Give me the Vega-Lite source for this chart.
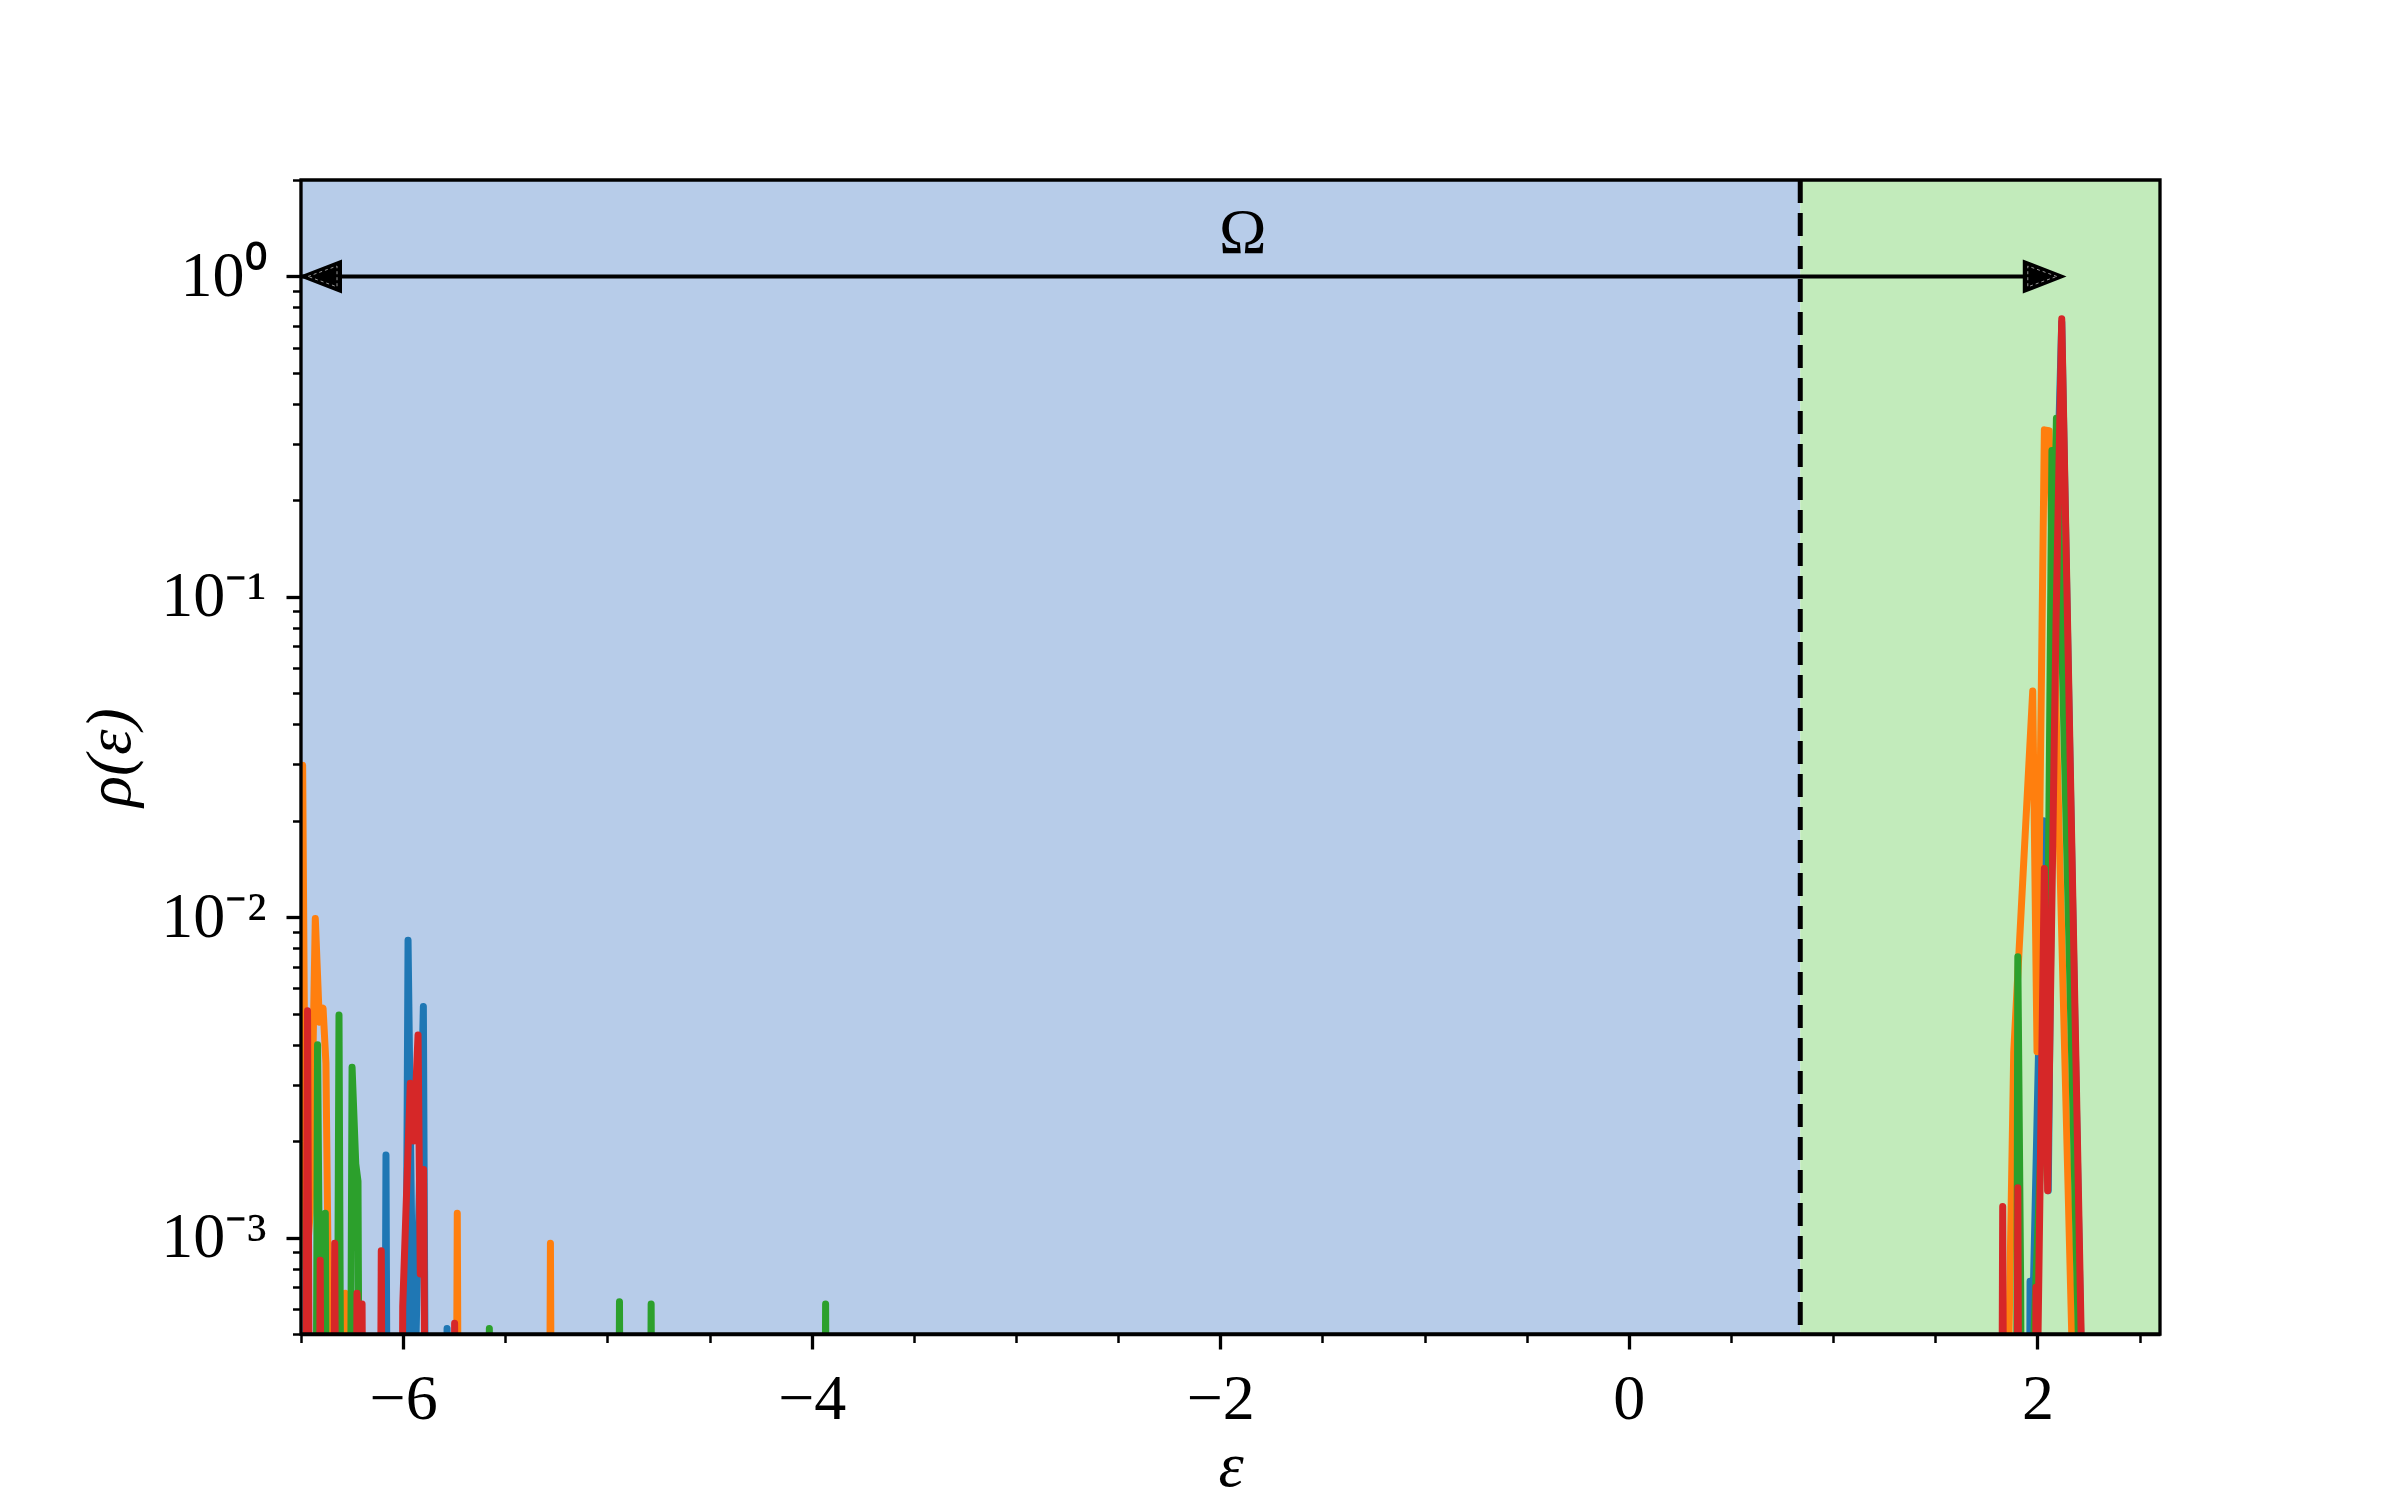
{
  "$schema": "https://vega.github.io/schema/vega-lite/v6.json",
  "autosize": {"type": "none"},
  "padding": {"left": 301, "top": 180, "right": 240, "bottom": 166},
  "width": 1859,
  "height": 1154,
  "background": "white",
  "config": {
    "view": {"stroke": null},
    "axis": {"grid": false, "zindex": 1}
  },
  "datasets": {
    "rho": [
      {"run": "1", "e": -6.5, "rho": 1e-5}, {"run": "1", "e": -6.098, "rho": 1e-5}, {"run": "1", "e": -6.084, "rho": 0.00181}, {"run": "1", "e": -6.07, "rho": 1e-5},
      {"run": "1", "e": -6.0, "rho": 1e-5}, {"run": "1", "e": -5.976, "rho": 0.00848}, {"run": "1", "e": -5.95, "rho": 0.0004}, {"run": "1", "e": -5.94, "rho": 0.0004},
      {"run": "1", "e": -5.901, "rho": 0.00526}, {"run": "1", "e": -5.881, "rho": 1e-5}, {"run": "1", "e": -5.797, "rho": 1e-5}, {"run": "1", "e": -5.785, "rho": 0.00052},
      {"run": "1", "e": -5.773, "rho": 1e-5}, {"run": "1", "e": 1.953, "rho": 1e-5}, {"run": "1", "e": 1.964, "rho": 0.00073}, {"run": "1", "e": 1.972, "rho": 0.0004},
      {"run": "1", "e": 2.03, "rho": 0.02}, {"run": "1", "e": 2.053, "rho": 0.0014}, {"run": "1", "e": 2.083, "rho": 0.105}, {"run": "1", "e": 2.119, "rho": 0.72},
      {"run": "1", "e": 2.212, "rho": 0.0005}, {"run": "1", "e": 2.22, "rho": 1e-5}, {"run": "1", "e": 2.6, "rho": 1e-5},

      {"run": "2", "e": -6.5, "rho": 0.002}, {"run": "2", "e": -6.492, "rho": 0.0298}, {"run": "2", "e": -6.475, "rho": 0.0008}, {"run": "2", "e": -6.455, "rho": 0.0012},
      {"run": "2", "e": -6.43, "rho": 0.0099}, {"run": "2", "e": -6.41, "rho": 0.0047}, {"run": "2", "e": -6.392, "rho": 0.0052}, {"run": "2", "e": -6.378, "rho": 0.0035},
      {"run": "2", "e": -6.368, "rho": 0.0009}, {"run": "2", "e": -6.355, "rho": 1e-5}, {"run": "2", "e": -6.295, "rho": 1e-5}, {"run": "2", "e": -6.283, "rho": 0.00067},
      {"run": "2", "e": -6.271, "rho": 1e-5}, {"run": "2", "e": -5.748, "rho": 1e-5}, {"run": "2", "e": -5.735, "rho": 0.00119}, {"run": "2", "e": -5.722, "rho": 1e-5},
      {"run": "2", "e": -5.292, "rho": 1e-5}, {"run": "2", "e": -5.279, "rho": 0.00096}, {"run": "2", "e": -5.266, "rho": 1e-5}, {"run": "2", "e": 1.855, "rho": 1e-5},
      {"run": "2", "e": 1.861, "rho": 0.0005}, {"run": "2", "e": 1.884, "rho": 0.0038}, {"run": "2", "e": 1.977, "rho": 0.0508}, {"run": "2", "e": 1.998, "rho": 0.0038},
      {"run": "2", "e": 2.034, "rho": 0.332}, {"run": "2", "e": 2.057, "rho": 0.33}, {"run": "2", "e": 2.168, "rho": 0.0005}, {"run": "2", "e": 2.175, "rho": 1e-5},
      {"run": "2", "e": 2.6, "rho": 1e-5},

      {"run": "3", "e": -6.5, "rho": 1e-5}, {"run": "3", "e": -6.433, "rho": 1e-5}, {"run": "3", "e": -6.419, "rho": 0.004}, {"run": "3", "e": -6.405, "rho": 0.0003},
      {"run": "3", "e": -6.381, "rho": 0.00119}, {"run": "3", "e": -6.366, "rho": 1e-5}, {"run": "3", "e": -6.332, "rho": 1e-5}, {"run": "3", "e": -6.314, "rho": 0.00495},
      {"run": "3", "e": -6.296, "rho": 1e-5}, {"run": "3", "e": -6.267, "rho": 1e-5}, {"run": "3", "e": -6.25, "rho": 0.0034}, {"run": "3", "e": -6.232, "rho": 0.0017},
      {"run": "3", "e": -6.221, "rho": 0.0015}, {"run": "3", "e": -6.206, "rho": 1e-5}, {"run": "3", "e": -5.59, "rho": 1e-5}, {"run": "3", "e": -5.578, "rho": 0.00052},
      {"run": "3", "e": -5.566, "rho": 1e-5}, {"run": "3", "e": -4.953, "rho": 1e-5}, {"run": "3", "e": -4.941, "rho": 0.00063}, {"run": "3", "e": -4.929, "rho": 1e-5},
      {"run": "3", "e": -4.798, "rho": 1e-5}, {"run": "3", "e": -4.786, "rho": 0.00062}, {"run": "3", "e": -4.774, "rho": 1e-5}, {"run": "3", "e": -3.944, "rho": 1e-5},
      {"run": "3", "e": -3.932, "rho": 0.00062}, {"run": "3", "e": -3.92, "rho": 1e-5}, {"run": "3", "e": 1.893, "rho": 1e-5}, {"run": "3", "e": 1.904, "rho": 0.00752},
      {"run": "3", "e": 1.918, "rho": 0.0007}, {"run": "3", "e": 1.93, "rho": 1e-5}, {"run": "3", "e": 1.978, "rho": 1e-5}, {"run": "3", "e": 1.983, "rho": 0.0005},
      {"run": "3", "e": 2.05, "rho": 0.007}, {"run": "3", "e": 2.071, "rho": 0.286}, {"run": "3", "e": 2.08, "rho": 0.12}, {"run": "3", "e": 2.093, "rho": 0.361},
      {"run": "3", "e": 2.2, "rho": 0.0005}, {"run": "3", "e": 2.207, "rho": 1e-5}, {"run": "3", "e": 2.6, "rho": 1e-5},

      {"run": "4", "e": -6.5, "rho": 1e-5}, {"run": "4", "e": -6.487, "rho": 1e-5}, {"run": "4", "e": -6.468, "rho": 0.0051}, {"run": "4", "e": -6.45, "rho": 1e-5},
      {"run": "4", "e": -6.42, "rho": 1e-5}, {"run": "4", "e": -6.406, "rho": 0.00085}, {"run": "4", "e": -6.392, "rho": 1e-5}, {"run": "4", "e": -6.35, "rho": 1e-5},
      {"run": "4", "e": -6.335, "rho": 0.00096}, {"run": "4", "e": -6.32, "rho": 1e-5}, {"run": "4", "e": -6.239, "rho": 1e-5}, {"run": "4", "e": -6.226, "rho": 0.00067},
      {"run": "4", "e": -6.214, "rho": 0.0004}, {"run": "4", "e": -6.201, "rho": 0.00062}, {"run": "4", "e": -6.188, "rho": 1e-5}, {"run": "4", "e": -6.121, "rho": 1e-5},
      {"run": "4", "e": -6.107, "rho": 0.00091}, {"run": "4", "e": -6.093, "rho": 1e-5}, {"run": "4", "e": -6.014, "rho": 1e-5}, {"run": "4", "e": -6.002, "rho": 0.00061},
      {"run": "4", "e": -5.965, "rho": 0.00303}, {"run": "4", "e": -5.949, "rho": 0.002}, {"run": "4", "e": -5.927, "rho": 0.00429}, {"run": "4", "e": -5.916, "rho": 0.00077},
      {"run": "4", "e": -5.9, "rho": 0.00163}, {"run": "4", "e": -5.881, "rho": 1e-5}, {"run": "4", "e": -5.76, "rho": 1e-5}, {"run": "4", "e": -5.748, "rho": 0.00054},
      {"run": "4", "e": -5.736, "rho": 1e-5}, {"run": "4", "e": 1.818, "rho": 1e-5}, {"run": "4", "e": 1.83, "rho": 0.00125}, {"run": "4", "e": 1.842, "rho": 1e-5},
      {"run": "4", "e": 1.893, "rho": 1e-5}, {"run": "4", "e": 1.904, "rho": 0.00143}, {"run": "4", "e": 1.916, "rho": 1e-5}, {"run": "4", "e": 1.983, "rho": 1e-5},
      {"run": "4", "e": 1.993, "rho": 0.0007}, {"run": "4", "e": 2.003, "rho": 0.0005}, {"run": "4", "e": 2.034, "rho": 0.0142}, {"run": "4", "e": 2.05, "rho": 0.0014},
      {"run": "4", "e": 2.091, "rho": 0.083}, {"run": "4", "e": 2.119, "rho": 0.738}, {"run": "4", "e": 2.214, "rho": 0.0005}, {"run": "4", "e": 2.222, "rho": 1e-5},
      {"run": "4", "e": 2.6, "rho": 1e-5}
    ]
  },
  "layer": [
    {
      "data": {"values": [{"from": -6.5, "to": 0.839}]},
      "mark": {"type": "rect", "fill": "#b7cce9"},
      "encoding": {
        "x": {"field": "from", "type": "quantitative", "scale": {"domain": [-6.5, 2.6], "nice": false, "zero": false},
          "title": "ε",
          "axis": {
            "values": [-6.5, -6, -5.5, -5, -4.5, -4, -3.5, -3, -2.5, -2, -1.5, -1, -0.5, 0, 0.5, 1, 1.5, 2, 2.5],
            "labelExpr": "abs(datum.value % 2) < 0.001 ? (datum.value < 0 ? '−' + abs(datum.value) : '' + datum.value) : ''",
            "labelFont": "Liberation Serif", "labelFontSize": 64, "labelColor": "black", "labelPadding": 18,
            "labelOverlap": false, "labelBound": false, "labelFlush": false,
            "domainColor": "black", "domainWidth": 3.3,
            "tickColor": "black",
            "tickSize": {"condition": {"test": "abs(datum.value % 2) < 0.001", "value": 15}, "value": 8.5},
            "tickWidth": {"condition": {"test": "abs(datum.value % 2) < 0.001", "value": 3.3}, "value": 2.5},
            "titleFont": "Liberation Serif", "titleFontSize": 64, "titleFontStyle": "italic", "titleFontWeight": "normal", "titleColor": "black",
            "titleBaseline": "top", "titleY": 100
          }
        },
        "x2": {"field": "to"}
      }
    },
    {
      "data": {"values": [{"from": 0.839, "to": 2.6}]},
      "mark": {"type": "rect", "fill": "#c2ebbb"},
      "encoding": {
        "x": {"field": "from", "type": "quantitative"},
        "x2": {"field": "to"}
      }
    },
    {
      "data": {"name": "rho"},
      "mark": {"type": "line", "strokeWidth": 7, "strokeJoin": "round", "strokeCap": "butt", "clip": true},
      "encoding": {
        "x": {"field": "e", "type": "quantitative"},
        "y": {"field": "rho", "type": "quantitative",
          "scale": {"type": "log", "domain": [0.0005, 2], "nice": false},
          "title": "ρ(ε)",
          "axis": {
            "values": [0.0005, 0.0006, 0.0007, 0.0008, 0.0009, 0.001, 0.002, 0.003, 0.004, 0.005, 0.006, 0.007, 0.008, 0.009, 0.01, 0.02, 0.03, 0.04, 0.05, 0.06, 0.07, 0.08, 0.09, 0.1, 0.2, 0.3, 0.4, 0.5, 0.6, 0.7, 0.8, 0.9, 1, 2],
            "labelExpr": "abs(log(datum.value)/LN10 - round(log(datum.value)/LN10)) < 0.001 ? (round(log(datum.value)/LN10) == 0 ? '10⁰' : round(log(datum.value)/LN10) == -1 ? '10⁻¹' : round(log(datum.value)/LN10) == -2 ? '10⁻²' : '10⁻³') : ''",
            "labelFont": "Liberation Serif", "labelFontSize": 64, "labelColor": "black", "labelPadding": 20,
            "labelOverlap": false, "labelBound": false, "labelFlush": false,
            "domainColor": "black", "domainWidth": 3.3,
            "tickColor": "black",
            "tickSize": {"condition": {"test": "abs(log(datum.value)/LN10 - round(log(datum.value)/LN10)) < 0.001", "value": 15}, "value": 8.5},
            "tickWidth": {"condition": {"test": "abs(log(datum.value)/LN10 - round(log(datum.value)/LN10)) < 0.001", "value": 3.3}, "value": 2.5},
            "titleFont": "Liberation Serif", "titleFontSize": 64, "titleFontStyle": "italic", "titleFontWeight": "normal", "titleColor": "black", "titlePadding": 18
          }
        },
        "color": {"field": "run", "type": "nominal", "legend": null,
          "scale": {"domain": ["1", "2", "3", "4"], "range": ["#1f77b4", "#ff7f0e", "#2ca02c", "#d62728"]}}
      }
    },
    {
      "data": {"values": [{"e": 0.839}]},
      "mark": {"type": "rule", "stroke": "black", "strokeWidth": 5, "strokeDash": [23, 10]},
      "encoding": {"x": {"field": "e", "type": "quantitative"}}
    },
    {
      "data": {"values": [{"from": -6.5, "to": 2.1, "rho": 1}]},
      "mark": {"type": "rule", "stroke": "black", "strokeWidth": 4},
      "encoding": {
        "x": {"field": "from", "type": "quantitative"},
        "x2": {"field": "to"},
        "y": {"field": "rho", "type": "quantitative"}
      }
    },
    {
      "data": {"values": [{"e": -6.5, "rho": 1}]},
      "mark": {"type": "point", "shape": "M0,0L2,-0.78L2,0.78Z", "size": 1600, "filled": true, "fill": "black", "stroke": "black", "strokeWidth": 2, "opacity": 1},
      "encoding": {
        "x": {"field": "e", "type": "quantitative"},
        "y": {"field": "rho", "type": "quantitative"}
      }
    },
    {
      "data": {"values": [{"e": -6.5, "rho": 1}]},
      "mark": {"type": "point", "shape": "M0.35,0L1.8,-0.52L1.8,0.52Z", "size": 1600, "filled": false, "stroke": "white", "strokeWidth": 1, "strokeDash": [3, 3], "opacity": 0.6},
      "encoding": {
        "x": {"field": "e", "type": "quantitative"},
        "y": {"field": "rho", "type": "quantitative"}
      }
    },
    {
      "data": {"values": [{"e": 2.129, "rho": 1}]},
      "mark": {"type": "point", "shape": "M0,0L-2,-0.78L-2,0.78Z", "size": 1600, "filled": true, "fill": "black", "stroke": "black", "strokeWidth": 2, "opacity": 1},
      "encoding": {
        "x": {"field": "e", "type": "quantitative"},
        "y": {"field": "rho", "type": "quantitative"}
      }
    },
    {
      "data": {"values": [{"e": 2.129, "rho": 1}]},
      "mark": {"type": "point", "shape": "M-0.35,0L-1.8,-0.52L-1.8,0.52Z", "size": 1600, "filled": false, "stroke": "white", "strokeWidth": 1, "strokeDash": [3, 3], "opacity": 0.6},
      "encoding": {
        "x": {"field": "e", "type": "quantitative"},
        "y": {"field": "rho", "type": "quantitative"}
      }
    },
    {
      "data": {"values": [{"e": -1.89, "rho": 1.36, "label": "Ω"}]},
      "mark": {"type": "text", "font": "Liberation Serif", "fontSize": 64, "color": "black", "align": "center", "baseline": "middle"},
      "encoding": {
        "x": {"field": "e", "type": "quantitative"},
        "y": {"field": "rho", "type": "quantitative"},
        "text": {"field": "label"}
      }
    },
    {
      "data": {"values": [{"x0": -6.5, "x1": 2.6, "y0": 0.0005, "y1": 2}]},
      "mark": {"type": "rect", "fill": null, "fillOpacity": 0, "stroke": "black", "strokeWidth": 3.3},
      "encoding": {
        "x": {"field": "x0", "type": "quantitative"},
        "x2": {"field": "x1"},
        "y": {"field": "y0", "type": "quantitative"},
        "y2": {"field": "y1"}
      }
    }
  ]
}
